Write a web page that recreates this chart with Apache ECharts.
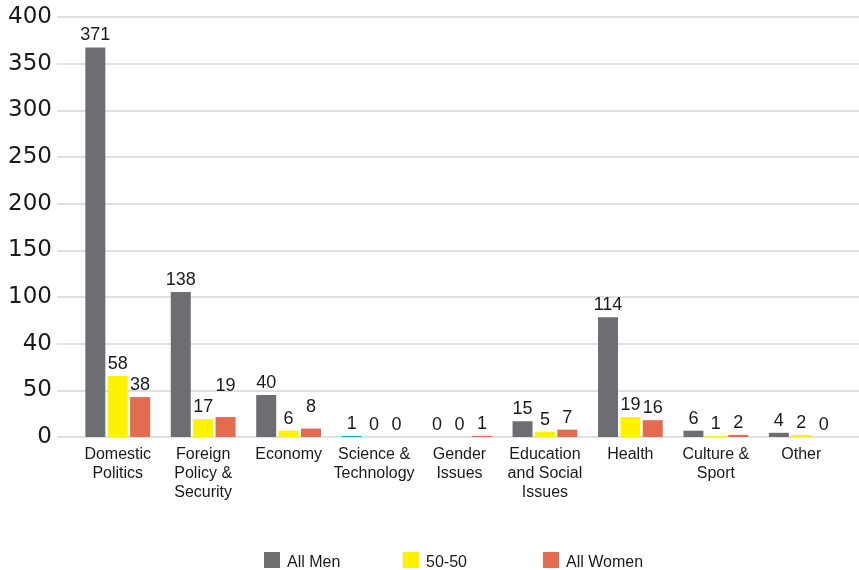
<!DOCTYPE html>
<html>
<head>
<meta charset="utf-8">
<script src="https://cdn.jsdelivr.net/npm/echarts@6/dist/echarts.min.js"></script>
<style>
  html, body { margin: 0; padding: 0; background: #ffffff; }
  #chart { width: 859px; height: 570px; }
</style>
</head>
<body>
<div id="chart"></div>
<script>
// ---- data ----
var categories = ['Domestic\nPolitics', 'Foreign\nPolicy &\nSecurity', 'Economy', 'Science &\nTechnology', 'Gender\nIssues', 'Education\nand Social\nIssues', 'Health', 'Culture &\nSport', 'Other'];
var seriesNames = ['All Men', '50-50', 'All Women'];
var allMen   = [371, 138, 40, 1, 0, 15, 114, 6, 4];
var fiftyFifty = [58, 17, 6, 0, 0, 5, 19, 1, 2];
var allWomen = [38, 19, 8, 0, 1, 7, 16, 2, 0];
// tick labels as printed on the original axis (bottom to top)
var tickLabels = ['0', '50', '40', '100', '150', '200', '250', '300', '350', '400'];
var axisMax = 400;

// ---- styling ----
var colors = ['#6d6e72', '#fff200', '#e36c50'];
var step = axisMax / (tickLabels.length - 1);
var numFont = 'DejaVu Sans';
var txtFont = 'Liberation Sans';
var legendLefts = [264, 403, 543];

function mk(values, si) {
  return values.map(function (v, i) {
    var o = { value: v };
    if (si === 0 && i === 3) o.itemStyle = { color: '#1a9ee0' };
    if (si === 2 && i === 1) o.label = { offset: [0, -19] };
    if (si === 2 && i === 2) o.label = { offset: [0, -10] };
    return o;
  });
}

var chart = echarts.init(document.getElementById('chart'), null, { renderer: 'canvas' });
var seriesData = [allMen, fiftyFifty, allWomen];
var series = seriesData.map(function (vals, si) {
  return {
    name: seriesNames[si],
    type: 'bar',
    xAxisIndex: 1,
    yAxisIndex: 1,
    barWidth: 20,
    barGap: '12%',
    itemStyle: { color: colors[si] },
    label: {
      show: true,
      position: 'top',
      distance: 3,
      color: '#1a1a1a',
      fontFamily: txtFont,
      fontSize: 18
    },
    data: mk(vals, si)
  };
});
series.push({ type: 'bar', xAxisIndex: 0, yAxisIndex: 0, data: [], silent: true });

var legends = seriesNames.map(function (n, i) {
  return {
    data: [n],
    left: legendLefts[i],
    top: 552,
    padding: 0,
    itemWidth: 16,
    itemHeight: 16,
    itemGap: 0,
    icon: 'rect',
    selectedMode: false,
    formatter: '{t|{name}}',
    textStyle: {
      fontFamily: txtFont, fontSize: 16, color: '#1a1a1a',
      rich: { t: { fontFamily: txtFont, fontSize: 16, color: '#1a1a1a', padding: [6, 0, 0, 2] } }
    }
  };
});

chart.setOption({
  animation: false,
  backgroundColor: '#ffffff',
  color: colors,
  legend: legends,
  grid: [
    { left: 57, right: 0, top: 17, bottom: 133 },
    { left: 75, right: 15, top: 17, bottom: 133 }
  ],
  xAxis: [
    { type: 'category', gridIndex: 0, data: categories, show: false },
    {
      type: 'category', gridIndex: 1, data: categories,
      axisLine: { show: false },
      axisTick: { show: false },
      axisLabel: {
        interval: 0,
        margin: 8,
        color: '#1a1a1a',
        fontFamily: txtFont,
        fontSize: 16,
        lineHeight: 19
      }
    }
  ],
  yAxis: [
    {
      type: 'value', gridIndex: 0, min: 0, max: axisMax, interval: step,
      axisLine: { show: false },
      axisTick: { show: false },
      splitLine: { show: true, lineStyle: { color: '#d6d6d6', width: 1.5 } },
      axisLabel: {
        margin: 5,
        color: '#1a1a1a',
        fontFamily: numFont,
        fontSize: 23,
        formatter: function (v) { return tickLabels[Math.round(v / step)]; }
      }
    },
    {
      type: 'value', gridIndex: 1, min: 0, max: axisMax, interval: step,
      show: false,
      splitLine: { show: false }
    }
  ],
  series: series
});
</script>
</body>
</html>
